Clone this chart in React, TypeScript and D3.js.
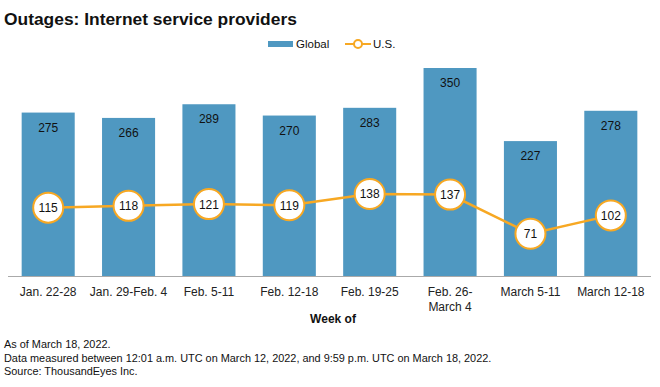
import React from "react";
import * as d3 from "d3";

const categories = [
  ["Jan. 22-28"],
  ["Jan. 29-Feb. 4"],
  ["Feb. 5-11"],
  ["Feb. 12-18"],
  ["Feb. 19-25"],
  ["Feb. 26-", "March 4"],
  ["March 5-11"],
  ["March 12-18"],
];
const globalValues = [275, 266, 289, 270, 283, 350, 227, 278];
const usValues = [115, 118, 121, 119, 138, 137, 71, 102];
const footnotes = [
  "As of March 18, 2022.",
  "Data measured between 12:01 a.m. UTC on March 12, 2022, and 9:59 p.m. UTC on March 18, 2022.",
  "Source: ThousandEyes Inc.",
];

const W = 660;
const H = 387;
const BLUE = "#4F98C1";
const ORANGE = "#F7A823";
const FONT = "'Liberation Sans', Arial, sans-serif";

export default function App() {
  const x = d3
    .scaleBand<number>()
    .domain(d3.range(categories.length))
    .range([8, 651])
    .paddingInner(0.34)
    .paddingOuter(0.17);
  const y = d3.scaleLinear().domain([0, 350]).range([276, 68]);
  const cx = (i: number) => (x(i) as number) + x.bandwidth() / 2;
  const line = d3
    .line<number>()
    .x((_, i) => cx(i))
    .y((d) => y(d));

  return (
    <svg
      width={W}
      height={H}
      style={{ position: "absolute", left: 0, top: 0, background: "#fff" }}
      fontFamily={FONT}
    >
      <text x={4} y={25} fontSize={17.4} fontWeight="bold" fill="#111">
        Outages: Internet service providers
      </text>
      {/* legend */}
      <rect x={268} y={41} width={25} height={6} fill={BLUE} />
      <text x={296} y={48} fontSize={11.5} fill="#111">
        Global
      </text>
      <line x1={345} x2={371} y1={44} y2={44} stroke={ORANGE} strokeWidth={2} />
      <circle cx={358} cy={44} r={4} fill="#fff" stroke={ORANGE} strokeWidth={2} />
      <text x={373} y={48} fontSize={11.5} fill="#111">
        U.S.
      </text>

      {globalValues.map((v, i) => (
        <g key={i}>
          <rect
            x={x(i)}
            y={y(v)}
            width={x.bandwidth()}
            height={y(0) - y(v)}
            fill={BLUE}
          />
          <text
            x={cx(i)}
            y={y(v) + 19}
            textAnchor="middle"
            fontSize={12}
            fill="#111"
          >
            {v}
          </text>
        </g>
      ))}
      <line x1={8} x2={651} y1={276.5} y2={276.5} stroke="#aaa" strokeWidth={1} />

      <path d={line(usValues) || ""} fill="none" stroke={ORANGE} strokeWidth={2.5} />
      {usValues.map((v, i) => (
        <g key={i}>
          <circle cx={cx(i)} cy={y(v)} r={15} fill="#fff" stroke={ORANGE} strokeWidth={2} />
          <text
            x={cx(i)}
            y={y(v) + 4.5}
            textAnchor="middle"
            fontSize={12}
            fill="#111"
          >
            {v}
          </text>
        </g>
      ))}

      {categories.map((lines, i) => (
        <text key={i} x={cx(i)} y={296} textAnchor="middle" fontSize={12} fill="#222">
          {lines.map((l, j) => (
            <tspan key={j} x={cx(i)} dy={j === 0 ? 0 : 15}>
              {l}
            </tspan>
          ))}
        </text>
      ))}
      <text x={333} y={323} textAnchor="middle" fontSize={12} fontWeight="bold" fill="#111">
        Week of
      </text>
      {footnotes.map((f, i) => (
        <text key={i} x={4} y={348 + i * 13.5} fontSize={10.9} fill="#111">
          {f}
        </text>
      ))}
    </svg>
  );
}
